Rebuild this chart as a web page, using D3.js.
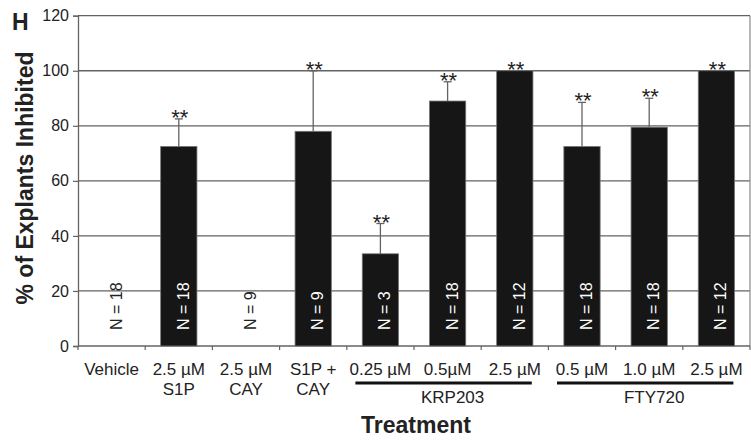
<!DOCTYPE html>
<html>
<head>
<meta charset="utf-8">
<script src="https://cdn.jsdelivr.net/npm/d3@7"></script>
<style>
  html, body { margin: 0; padding: 0; background: #fff; }
  svg { display: block; font-family: "Liberation Sans", Arial, sans-serif; }
</style>
</head>
<body>
<svg id="chart" width="751" height="440"></svg>
<script>
// ---- data ----
const labelLine1 = ["Vehicle", "2.5 µM", "2.5 µM", "S1P +", "0.25 µM", "0.5µM", "2.5 µM", "0.5 µM", "1.0 µM", "2.5 µM"];
const labelLine2 = ["", "S1P", "CAY", "CAY", "", "", "", "", "", ""];
const values = [0, 72.5, 0, 78, 33.5, 89, 100, 72.5, 79.5, 100];
const errors = [0, 10, 0, 22, 11, 7, 0, 16, 10.5, 0];
const nValues = [18, 18, 9, 9, 3, 18, 12, 18, 18, 12];
const signif = ["", "**", "", "**", "**", "**", "**", "**", "**", "**"];
const groupNames = ["KRP203", "FTY720"];
const groupStart = [4, 7];
const groupEnd = [6, 9];
const yTicks = [0, 20, 40, 60, 80, 100, 120];

// ---- layout ----
const svg = d3.select("#chart");
const mLeft = 78, mRight = 750, mTop = 15.7, mBottom = 346;
const idx = d3.range(values.length);

const x = d3.scaleBand().domain(idx).range([mLeft, mRight]).paddingInner(0.46).paddingOuter(0.23);
const xb = d3.scaleBand().domain(idx).range([mLeft, mRight]); // category slots
const y = d3.scaleLinear().domain([0, 120]).range([mBottom, mTop]);
const cx = i => x(i) + x.bandwidth() / 2;

const gridColor = "#636363";

// gridlines
svg.append("g").selectAll("line").data(yTicks.filter(t => t > 0)).join("line")
  .attr("x1", mLeft).attr("x2", mRight)
  .attr("y1", d => y(d)).attr("y2", d => y(d))
  .attr("stroke", gridColor).attr("stroke-width", 1.3);

// right border
svg.append("line").attr("x1", mRight).attr("x2", mRight).attr("y1", y(120)).attr("y2", y(0))
  .attr("stroke", "#888").attr("stroke-width", 1.2);

// y axis
const yAxis = svg.append("g").attr("transform", `translate(${mLeft},0)`)
  .call(d3.axisLeft(y).tickValues(yTicks).tickSize(5).tickPadding(4));
yAxis.select(".domain").attr("stroke", gridColor).attr("stroke-width", 1.3);
yAxis.selectAll(".tick line").attr("stroke", gridColor).attr("stroke-width", 1.2);
yAxis.selectAll(".tick text").attr("font-size", 16).attr("fill", "#222")
  .attr("font-family", "'Liberation Sans', Arial, sans-serif");

// x axis baseline with ticks at category boundaries
svg.append("line").attr("x1", mLeft).attr("x2", mRight).attr("y1", mBottom).attr("y2", mBottom)
  .attr("stroke", gridColor).attr("stroke-width", 1.3);
svg.append("g").selectAll("line").data(d3.range(values.length + 1)).join("line")
  .attr("x1", d => d < values.length ? xb(d) : mRight)
  .attr("x2", d => d < values.length ? xb(d) : mRight)
  .attr("y1", mBottom).attr("y2", mBottom + 4)
  .attr("stroke", gridColor).attr("stroke-width", 1.2);

// bars
svg.append("g").selectAll("rect").data(idx.filter(i => values[i] > 0)).join("rect")
  .attr("x", i => x(i)).attr("width", x.bandwidth())
  .attr("y", i => y(values[i])).attr("height", i => y(0) - y(values[i]))
  .attr("fill", "#161616").attr("stroke", "#777").attr("stroke-width", 0.8);

// error bars
const errIdx = idx.filter(i => errors[i] > 0);
const eg = svg.append("g").attr("stroke", gridColor).attr("stroke-width", 1.3);
eg.selectAll("line.v").data(errIdx).join("line").attr("class", "v")
  .attr("x1", cx).attr("x2", cx)
  .attr("y1", i => y(values[i])).attr("y2", i => y(values[i] + errors[i]));
eg.selectAll("line.c").data(errIdx).join("line").attr("class", "c")
  .attr("x1", i => cx(i) - 4).attr("x2", i => cx(i) + 4)
  .attr("y1", i => y(values[i] + errors[i])).attr("y2", i => y(values[i] + errors[i]));

// significance stars
svg.append("g").selectAll("text").data(idx.filter(i => signif[i])).join("text")
  .attr("x", i => cx(i) + 1)
  .attr("y", i => y(values[i] + errors[i]) + 6)
  .attr("text-anchor", "middle").attr("font-size", 22).attr("fill", "#222")
  .text(i => signif[i]);

// N labels
svg.append("g").selectAll("text").data(idx).join("text")
  .attr("transform", i => `translate(${cx(i) + 10},${mBottom - 16}) rotate(-90)`)
  .attr("font-size", 16)
  .attr("fill", i => values[i] > 0 ? "#fff" : "#222")
  .text(i => `N = ${nValues[i]}`);

// x labels
const xl = svg.append("g").attr("font-size", 17).attr("fill", "#222").attr("text-anchor", "middle");
xl.selectAll("text.l1").data(idx).join("text").attr("class", "l1")
  .attr("x", cx).attr("y", 375).text(i => labelLine1[i]);
xl.selectAll("text.l2").data(idx.filter(i => labelLine2[i])).join("text").attr("class", "l2")
  .attr("x", cx).attr("y", 395).text(i => labelLine2[i]);

// group brackets
const gg = svg.append("g");
groupNames.forEach((name, g) => {
  const x1 = cx(groupStart[g]) - 25, x2 = cx(groupEnd[g]) + 17;
  gg.append("line").attr("x1", x1).attr("x2", x2).attr("y1", 383).attr("y2", 383)
    .attr("stroke", "#111").attr("stroke-width", 3);
  gg.append("text").attr("x", cx(groupStart[g] + 1) + 5).attr("y", 403)
    .attr("text-anchor", "middle").attr("font-size", 17).attr("fill", "#222").text(name);
});

// axis titles
svg.append("text").attr("x", 416).attr("y", 433).attr("text-anchor", "middle")
  .attr("font-size", 23).attr("font-weight", "bold").attr("fill", "#222").text("Treatment");
svg.append("text").attr("transform", `translate(33,178) rotate(-90)`).attr("text-anchor", "middle")
  .attr("font-size", 23).attr("font-weight", "bold").attr("fill", "#222").text("% of Explants Inhibited");

// panel letter
svg.append("text").attr("x", 12).attr("y", 30).attr("font-size", 23).attr("font-weight", "bold")
  .attr("fill", "#222").text("H");
</script>
</body>
</html>
